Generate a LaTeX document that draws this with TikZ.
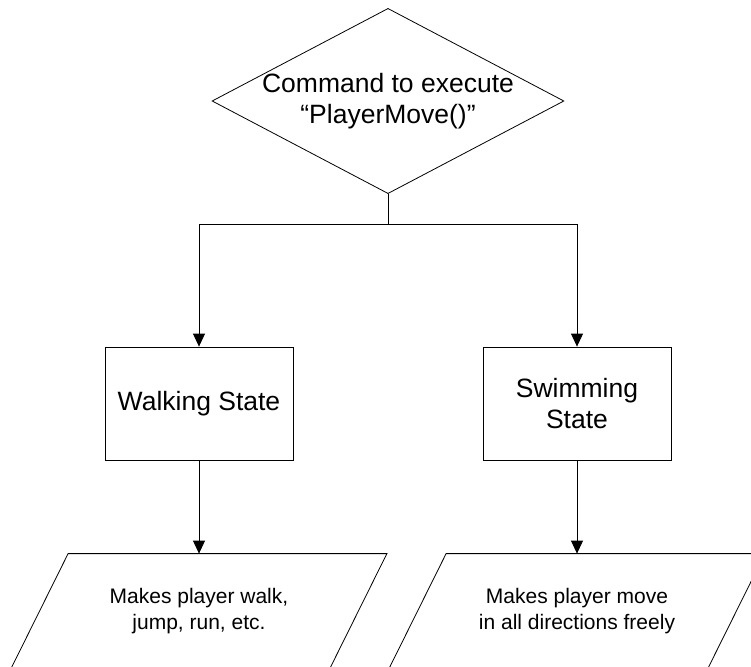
\documentclass[tikz,border=0pt]{standalone}
\usepackage{fontspec}
\setmainfont{Liberation Sans}
\usetikzlibrary{arrows.meta,shapes.geometric}
\tikzset{
  box/.style={draw,minimum width=188pt,minimum height=113pt,align=center,font=\fontsize{26.5}{31}\selectfont,inner sep=0pt},
  cond/.style={draw,diamond,aspect=1.9,inner sep=-1pt,align=center,font=\fontsize{26.5}{31}\selectfont},
  io/.style={minimum width=318pt,minimum height=114pt,align=center,font=\fontsize{21}{26}\selectfont,inner sep=0pt},
  arr/.style={-{Triangle[length=13pt,width=12pt]},line width=0.8pt}}

\begin{document}
\begin{tikzpicture}[x=1pt,y=-1pt,line width=0.8pt]
\useasboundingbox (0,0) rectangle (751,666);
\clip (0,0) rectangle (751,666);
% decision
\node[cond] (cmd) at (388,101) {Command to execute\\“PlayerMove()”};
\coordinate (split) at (388,224);
% states
\node[box] (walk) at (199,403.5) {Walking State};
\node[box] (swim) at (577,403.5) {Swimming\\State};
% outputs (slanted sides drawn below)
\node[io] (wout) at (199,611) {Makes player walk,\\jump, run, etc.};
\node[io] (sout) at (577,611) {Makes player move\\in all directions freely};
\foreach \n in {wout,sout}
  \draw ([xshift=28.5pt]\n.north west) -- ([xshift=28.5pt]\n.north east) -- ([xshift=-28.5pt]\n.south east) -- ([xshift=-28.5pt]\n.south west) -- cycle;
\draw (cmd.south) -- (split);
\draw[arr] (split) -| (walk.north); \draw[arr] (split) -| (swim.north);
\draw[arr] (walk) -- (wout); \draw[arr] (swim) -- (sout);
\end{tikzpicture}
\end{document}
